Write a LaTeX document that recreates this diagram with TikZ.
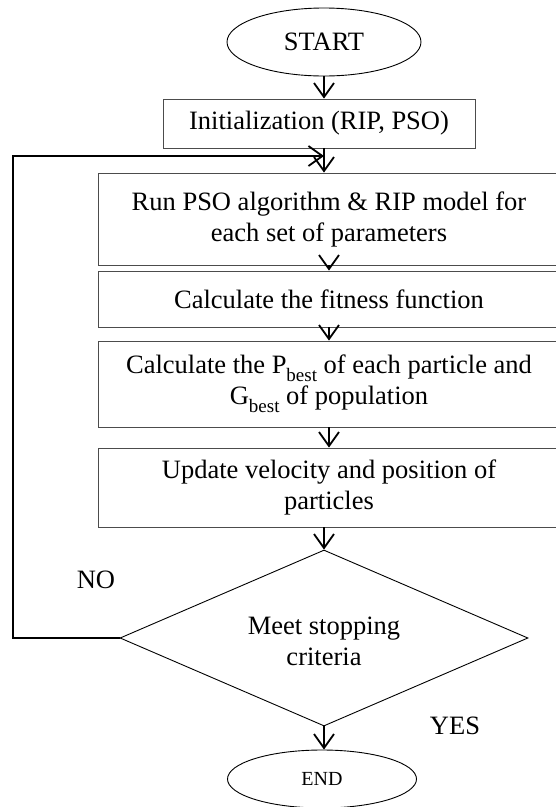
\documentclass[tikz,border=0pt]{standalone}
\usepackage{fontspec}
\setmainfont{Liberation Serif}
\usetikzlibrary{shapes.geometric,arrows.meta}
\newcommand{\bestsub}{\raisebox{-0.3em}{\fontsize{19}{19}\selectfont best}}
\begin{document}
\begin{tikzpicture}[x=1pt,y=-1pt,
  bigfont/.style={font=\fontsize{26.5}{31}\selectfont},
  box/.style={draw=black!70,line width=0.9pt,rectangle,inner sep=0pt,align=center,bigfont},
  term/.style={draw=black,line width=0.9pt,ellipse,inner sep=0pt},
  arr/.style={line width=1.8pt,-{Straight Barb[length=14pt,width=20pt,line width=1.8pt]}},
  looparr/.style={line width=2.2pt,line cap=round,-{Straight Barb[length=14pt,width=20pt,line width=1.8pt]}},
  lbl/.style={bigfont,inner sep=0pt,align=center}]
\useasboundingbox (0,0) rectangle (555,807);
\node[term,minimum width=194pt,minimum height=68pt,bigfont] (start) at (324,42) {START};
\node[box,minimum width=312pt,minimum height=49pt] (init) at (319,123.5) {Initialization (RIP, PSO)};
\node[box,minimum width=462pt,minimum height=92pt] (run) at (329,219) {Run PSO algorithm \& RIP model for\\each set of parameters};
\node[box,minimum width=462pt,minimum height=56pt] (fit) at (329,299) {Calculate the fitness function};
\node[box,minimum width=462pt,minimum height=86pt] (pb) at (329,384) {Calculate the P\bestsub{} of each particle and\\G\bestsub{} of population};
\node[box,minimum width=462pt,minimum height=79pt] (upd) at (329,487.5) {Update velocity and position of\\particles};
\node[diamond,draw=black,line width=0.9pt,minimum width=408pt,minimum height=176pt,inner sep=0pt] (dec) at (324,638) {};
\node[lbl] (dect) at (324,641) {Meet stopping\\criteria};
\node[term,minimum width=189pt,minimum height=58pt,font=\fontsize{20}{24}\selectfont] (end) at (322,779) {END};
\node[lbl] (no) at (96,580) {NO};
\node[lbl] (yes) at (455,726) {YES};
\coordinate (lp) at (13,156);
\draw[arr] (start.south) -- (start.south |- init.north);
\draw[arr] (start.south |- init.south) -- (start.south |- run.north);
\draw[arr] (run.south) -- (fit.north);
\draw[arr] (fit.south) -- (pb.north);
\draw[arr] (pb.south) -- (upd.north);
\draw[arr] (dec.north |- upd.south) -- (dec.north);
\draw[arr] (dec.south) -- (dec.south |- end.north);
\draw[looparr] (dec.west) -| (lp) -- (lp -| start.south);
\end{tikzpicture}
\end{document}
